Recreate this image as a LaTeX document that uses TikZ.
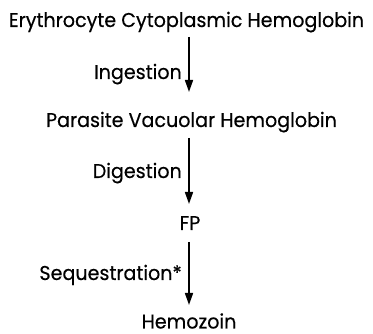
\documentclass[tikz,border=0pt]{standalone}
\usepackage{fontspec}
\setmainfont[FakeStretch=0.955,FakeBold=0.4]{Poppins}
\usetikzlibrary{arrows.meta}
\tikzset{
  lbl/.style={inner sep=0pt, font=\fontsize{20}{22}\selectfont},
  arr/.style={line width=1.6pt, -{Triangle[width=8pt,length=12pt]}}
}
\begin{document}
\begin{tikzpicture}[x=1pt,y=-1pt]
\useasboundingbox (0,0) rectangle (373,334);
\node[lbl, anchor=base] (ery) at (186.5,27) {Erythrocyte Cytoplasmic Hemoglobin};
\node[lbl, anchor=base] (par) at (191.5,127) {Parasite Vacuolar Hemoglobin};
\node[lbl, anchor=base] (fp) at (190,230) {FP};
\node[lbl, anchor=base, text depth=0pt] (hem) at (189,328.5) {Hemozoin};
\node[lbl, anchor=base east] (ing) at (182,79) {Ingestion};
\node[lbl, anchor=base east] (dig) at (182,178) {Digestion};
\node[lbl, anchor=base east] (seq) at (182,280) {Sequestration*};
\coordinate (a1s) at (189,37);
\coordinate (a1e) at (189,92);
\coordinate (a2s) at (189,138);
\coordinate (a2e) at (189,204);
\coordinate (a3s) at (189,242);
\coordinate (a3e) at (189,305);
\draw[arr] (a1s) -- (a1e);
\draw[arr] (a2s) -- (a2e);
\draw[arr] (a3s) -- (a3e);
\end{tikzpicture}
\end{document}
